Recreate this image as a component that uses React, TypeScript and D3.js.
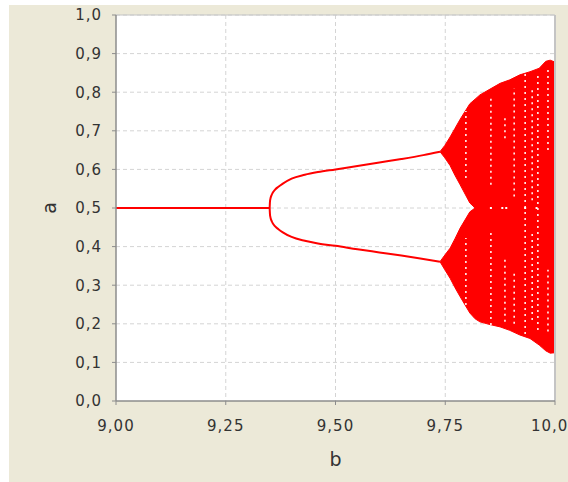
import * as d3 from 'd3';

// axis ticks
const xTicks = [9.0, 9.25, 9.5, 9.75, 10.0];
const yTicks = [0, 0.1, 0.2, 0.3, 0.4, 0.5, 0.6, 0.7, 0.8, 0.9, 1.0];

// period-1 fixed point
const stableB = [9.0, 9.35];
const stableA = [0.5, 0.5];

// period-2 branches
const branchB = [9.35, 9.351, 9.355, 9.362, 9.37, 9.38, 9.4, 9.43, 9.46, 9.5, 9.55, 9.6, 9.65, 9.7, 9.738];
const branchUpper = [0.5, 0.52, 0.535, 0.547, 0.555, 0.563, 0.576, 0.586, 0.593, 0.6, 0.609, 0.618, 0.627, 0.637, 0.646];
const branchLower = [0.5, 0.48, 0.465, 0.453, 0.445, 0.437, 0.425, 0.415, 0.408, 0.402, 0.393, 0.385, 0.377, 0.368, 0.361];

// chaotic region envelopes
const chaosB = [9.738, 9.749, 9.761, 9.772, 9.784, 9.806, 9.818, 9.829, 9.852, 9.875, 9.897, 9.92, 9.943, 9.964, 9.979, 9.989, 10.0];
const chaosTop = [0.646, 0.662, 0.684, 0.706, 0.73, 0.77, 0.782, 0.793, 0.808, 0.823, 0.832, 0.845, 0.853, 0.862, 0.88, 0.883, 0.878];
const chaosUpperInner = [0.646, 0.63, 0.61, 0.585, 0.56, 0.513, 0.5, 0.5, 0.5, 0.5, 0.5, 0.5, 0.5, 0.5, 0.5, 0.5, 0.5];
const chaosLowerInner = [0.361, 0.378, 0.396, 0.42, 0.448, 0.49, 0.5, 0.5, 0.5, 0.5, 0.5, 0.5, 0.5, 0.5, 0.5, 0.5, 0.5];
const chaosBottom = [0.361, 0.34, 0.318, 0.294, 0.27, 0.228, 0.213, 0.205, 0.198, 0.192, 0.183, 0.171, 0.162, 0.145, 0.13, 0.124, 0.125];

// white (empty) columns inside the chaotic band
const gapB = [9.797, 9.797, 9.854, 9.854, 9.886, 9.886, 9.907, 9.907, 9.932, 9.948, 9.948, 9.961, 9.984, 9.984];
const gapFrom = [0.578, 0.249, 0.56, 0.197, 0.681, 0.205, 0.53, 0.2, 0.158, 0.52, 0.21, 0.184, 0.65, 0.18];
const gapTo = [0.751, 0.422, 0.793, 0.438, 0.733, 0.37, 0.81, 0.34, 0.85, 0.806, 0.44, 0.852, 0.86, 0.34];

// white specks along a = 0.5
const speckB = [9.854, 9.88, 9.889, 9.932, 9.958];

const W = 568;
const H = 482;
const margin = { left: 116, top: 15, right: 13, bottom: 81 };

const fmt = (v: number, digits: number) => v.toFixed(digits).replace('.', ',');

export default function App() {
  const x = d3.scaleLinear().domain([9, 10]).range([margin.left, W - margin.right]);
  const y = d3.scaleLinear().domain([0, 1]).range([H - margin.bottom, margin.top]);
  const x0 = x.range()[0];
  const x1 = x.range()[1];
  const y0 = y.range()[0];
  const y1 = y.range()[1];

  const line = d3
    .line<[number, number]>()
    .x((d) => x(d[0]))
    .y((d) => y(d[1]))
    .curve(d3.curveMonotoneX);

  const area = d3.area<number>().x((i) => x(chaosB[i]));

  const idx = chaosB.map((_, i) => i);
  const upperBand = area.y0((i) => y(chaosUpperInner[i])).y1((i) => y(chaosTop[i]))(idx) ?? '';
  const lowerBand = area.y0((i) => y(chaosBottom[i])).y1((i) => y(chaosLowerInner[i]))(idx) ?? '';

  const tickFont = { fontFamily: 'DejaVu Sans, sans-serif', fontSize: 15, fill: '#333333', letterSpacing: 1 };

  return (
    <svg
      width={W}
      height={H}
      style={{ position: 'absolute', left: 0, top: 0 }}
      xmlns="http://www.w3.org/2000/svg"
    >
      <rect x={0} y={0} width={W} height={H} fill="#ffffff" />
      <rect x={9} y={5} width={W - 9} height={H - 5} fill="#ece9d8" />
      <rect x={x0} y={y1} width={x1 - x0} height={y0 - y1} fill="#ffffff" />

      {/* grid */}
      {xTicks.slice(1, -1).map((t) => (
        <line key={'gx' + t} x1={x(t)} x2={x(t)} y1={y1} y2={y0} stroke="#d4d4d4" strokeDasharray="4,3" />
      ))}
      {yTicks.slice(1).map((t) => (
        <line key={'gy' + t} x1={x0} x2={x1} y1={y(t)} y2={y(t)} stroke="#d4d4d4" strokeDasharray="4,3" />
      ))}

      {/* data */}
      <path d={line(stableB.map((b, i) => [b, stableA[i]]))!} fill="none" stroke="#ff0000" strokeWidth={2} />
      <path d={line(branchB.map((b, i) => [b, branchUpper[i]]))!} fill="none" stroke="#ff0000" strokeWidth={2} />
      <path d={line(branchB.map((b, i) => [b, branchLower[i]]))!} fill="none" stroke="#ff0000" strokeWidth={2} />
      <path d={upperBand} fill="#ff0000" stroke="#ff0000" strokeWidth={1} />
      <path d={lowerBand} fill="#ff0000" stroke="#ff0000" strokeWidth={1} />
      {gapB.map((b, i) => (
        <line
          key={'gap' + i}
          x1={x(b)}
          x2={x(b)}
          y1={y(gapFrom[i])}
          y2={y(gapTo[i])}
          stroke="#ffffff"
          strokeWidth={1.5}
          strokeDasharray="2,4"
        />
      ))}
      {speckB.map((b, i) => (
        <rect key={'sp' + i} x={x(b) - 1} y={y(0.5) - 1} width={2} height={2} fill="#ffffff" />
      ))}

      {/* frame */}
      <line x1={x1} x2={x1} y1={y1} y2={y0} stroke="#c4c4c4" strokeWidth={2} />
      <line x1={x0} x2={x1} y1={y1} y2={y1} stroke="#c4c4c4" strokeWidth={1} />

      {/* axes */}
      <line x1={x0} x2={x0} y1={y1} y2={y0} stroke="#8c8c8c" strokeWidth={1.5} />
      <line x1={x0} x2={x1} y1={y0} y2={y0} stroke="#8c8c8c" strokeWidth={1.5} />
      {yTicks.map((t) => (
        <g key={'yt' + t}>
          <line x1={x0 - 4} x2={x0} y1={y(t)} y2={y(t)} stroke="#8c8c8c" />
          <text x={x0 - 14} y={y(t)} dy="0.36em" textAnchor="end" {...tickFont}>
            {fmt(t, 1)}
          </text>
        </g>
      ))}
      {xTicks.map((t) => (
        <g key={'xt' + t}>
          <line x1={x(t)} x2={x(t)} y1={y0} y2={y0 + 4} stroke="#8c8c8c" />
          <text x={x(t)} y={y0 + 30} textAnchor="middle" {...tickFont}>
            {fmt(t, 2)}
          </text>
        </g>
      ))}

      <text
        x={(x0 + x1) / 2}
        y={466}
        textAnchor="middle"
        fontFamily="DejaVu Sans, sans-serif"
        fontSize={19}
        fill="#333333"
      >
        b
      </text>
      <text
        transform={`translate(56,${y(0.5)}) rotate(-90)`}
        textAnchor="middle"
        fontFamily="DejaVu Sans, sans-serif"
        fontSize={19}
        fill="#333333"
      >
        a
      </text>
    </svg>
  );
}
